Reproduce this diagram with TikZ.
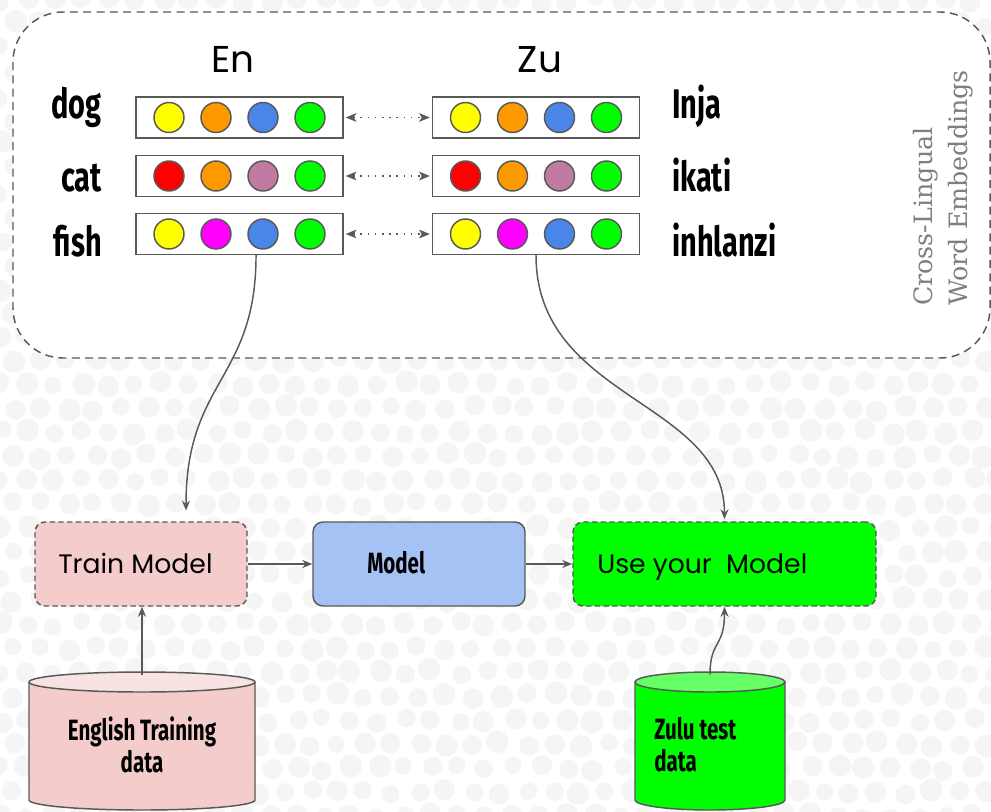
\documentclass[tikz,border=0pt]{standalone}
\usepackage{fontspec}
\usetikzlibrary{arrows.meta,calc}
\newfontfamily\oswf{Fira Sans}[FakeStretch=0.7]
\newfontfamily\monf{Poppins}
\newfontfamily\serf{DejaVu Serif}
\definecolor{lg}{HTML}{595959}
\definecolor{bgc}{HTML}{F5F5F5}
\definecolor{cy}{HTML}{FFFF00}
\definecolor{co}{HTML}{FF9900}
\definecolor{cb}{HTML}{4A86E8}
\definecolor{cg}{HTML}{00FF00}
\definecolor{cr}{HTML}{FF0000}
\definecolor{cm}{HTML}{C27BA0}
\definecolor{cmag}{HTML}{FF00FF}
\definecolor{pinkc}{HTML}{F4CCCC}
\definecolor{pinktop}{HTML}{F9E2E2}
\definecolor{bluec}{HTML}{A4C2F4}
\definecolor{greentop}{HTML}{66FF66}
\definecolor{cwe}{HTML}{7F7F7F}
\tikzset{
  vecbox/.style={draw=lg, line width=1.1pt, fill=white, minimum width=155.25pt, minimum height=30.75pt, inner sep=0pt},
  dotc/.style={circle, draw=lg, line width=1.1pt, minimum size=22.5pt, inner sep=0pt},
  lbl/.style={font=\oswf\bfseries\fontsize{31}{31}\selectfont, inner sep=0pt},
  hdr/.style={font=\monf\fontsize{28}{28}\selectfont, inner sep=0pt},
  mont/.style={font=\monf\fontsize{20}{20}\selectfont, inner sep=0pt},
  oswsmall/.style={font=\oswf\bfseries\fontsize{22}{24}\selectfont, inner sep=0pt},
  dotarrow/.style={lg, line width=1pt, dash pattern=on 1.2pt off 4.2pt, {Stealth[length=8pt,width=6.5pt,inset=2pt]}-{Stealth[length=8pt,width=6.5pt,inset=2pt]}, shorten <=1.5pt, shorten >=1.5pt},
  procbox/.style={draw=lg, line width=1.1pt, rounded corners=7.5pt, minimum height=63pt, inner sep=0pt},
  dashproc/.style={procbox, dash pattern=on 4pt off 2.5pt},
  conn/.style={lg, line width=1.1pt, -{Stealth[length=7.5pt,width=6pt]}},
  cylline/.style={draw=lg, line width=1.1pt}
}
\begin{document}
\begin{tikzpicture}[x=0.75pt,y=-0.75pt]
\useasboundingbox (0,0) rectangle (991,811);
\fill[white] (0,0) rectangle (991,811);
% background dotted pattern
\pgfmathsetseed{3}
\foreach \row in {0,...,35}{
  \foreach \col in {0,...,38}{
    \pgfmathsetmacro\cx{\col*27+mod(\row,2)*13.5+rand*3}
    \pgfmathsetmacro\cyy{\row*24+rand*3}
    \pgfmathsetmacro\rr{(8.5+3*rnd)*0.75}
    \fill[bgc] (\cx,\cyy) circle[radius=\rr pt];
  }
}
% dashed container
\draw[lg, line width=1.1pt, dash pattern=on 6pt off 4pt, fill=white, rounded corners=37.5pt] (13,12) rectangle (990,358);

% headers
\node[hdr, anchor=base] (en) at (233,72) {En};
\node[hdr, anchor=base] (zu) at (540,72) {Zu};

% vector boxes
\node[vecbox] (e1) at (239.5,117.5) {};
\node[vecbox] (e2) at (239.5,176) {};
\node[vecbox] (e3) at (239.5,234) {};
\node[vecbox] (z1) at (536,117.5) {};
\node[vecbox] (z2) at (536,176) {};
\node[vecbox] (z3) at (536,234) {};

\foreach \bx/\ca/\cb/\cc/\cd in {e1/cy/co/cb/cg, e2/cr/co/cm/cg, e3/cy/cmag/cb/cg, z1/cy/co/cb/cg, z2/cr/co/cm/cg, z3/cy/cmag/cb/cg}{
  \node[dotc, fill=\ca] (\bx c1) at ($(\bx.center)+(-70.5,0)$) {};
  \node[dotc, fill=\cb] (\bx c2) at ($(\bx.center)+(-23.5,0)$) {};
  \node[dotc, fill=\cc] (\bx c3) at ($(\bx.center)+(23.5,0)$) {};
  \node[dotc, fill=\cd] (\bx c4) at ($(\bx.center)+(70.5,0)$) {};
}

\draw[dotarrow] (e1.east) -- (z1.west);
\draw[dotarrow] (e2.east) -- (z2.west);
\draw[dotarrow] (e3.east) -- (z3.west);

% word labels
\node[lbl, anchor=base east] (dog) at (102,118) {dog};
\node[lbl, anchor=base east] (cat) at (102,191) {cat};
\node[lbl, anchor=base east] (fish) at (102,256) {fish};
\node[lbl, anchor=base west] (inja) at (672,118) {Inja};
\node[lbl, anchor=base west] (ikati) at (672,191) {ikati};
\node[lbl, anchor=base west] (inhlanzi) at (672,256) {inhlanzi};

% side title
\node[font=\serf\fontsize{19}{26}\selectfont, text=cwe, rotate=90, anchor=north west, align=left, inner sep=0pt] (cwe) at (913,306) {Cross-Lingual\\Word Embeddings};

% process boxes
\node[dashproc, fill=pinkc, minimum width=159pt] (train) at (141,564) {};
\node[procbox, fill=bluec, minimum width=159pt] (model) at (419,564) {};
\node[dashproc, fill=cg, minimum width=227.25pt] (use) at (724.5,564) {};
\node[mont, anchor=base west] (traint) at (58,573) {Train Model};
\node[oswsmall, anchor=base west] (modelt) at (367,573) {Model};
\node[mont, anchor=base west] (uset) at (597,573) {Use your\ \ Model};

% cylinders
\fill[pinkc] (29,682) -- (29,800) arc[start angle=180,end angle=360,x radius=84.75pt,y radius=7.5pt] -- (255,682) -- cycle;
\draw[cylline] (29,682) -- (29,800) arc[start angle=180,end angle=360,x radius=84.75pt,y radius=7.5pt] -- (255,682);
\draw[cylline, fill=pinktop] (142,682) ellipse[x radius=84.75pt, y radius=7.5pt];
\coordinate (engtop) at (142,674.5);
\node[oswsmall, align=center] (engt) at (142,745) {English Training\\data};

\fill[cg] (635,682) -- (635,800) arc[start angle=180,end angle=360,x radius=56.25pt,y radius=7.5pt] -- (785,682) -- cycle;
\draw[cylline] (635,682) -- (635,800) arc[start angle=180,end angle=360,x radius=56.25pt,y radius=7.5pt] -- (785,682);
\draw[cylline, fill=greentop] (710,682) ellipse[x radius=56.25pt, y radius=7.5pt];
\coordinate (zutop) at (710,674.5);
\node[oswsmall, align=left, anchor=west] (zut) at (654,745) {Zulu test\\data};

% connectors
\draw[conn, shorten >=8pt] ([xshift=12.4pt]e3.south) .. controls (256,380) and (186,380) .. ([xshift=33.75pt]train.north);
\draw[conn, shorten >=1.5pt] (z3.south) .. controls (536,400) and (724.5,400) .. (use.north);
\draw[conn] (train.east) -- (model.west);
\draw[conn] (model.east) -- (use.west);
\draw[conn] (engtop) -- (engtop |- train.south);
\draw[conn] (zutop) .. controls (710,640) and (724.5,648) .. (use.south);
\end{tikzpicture}
\end{document}
